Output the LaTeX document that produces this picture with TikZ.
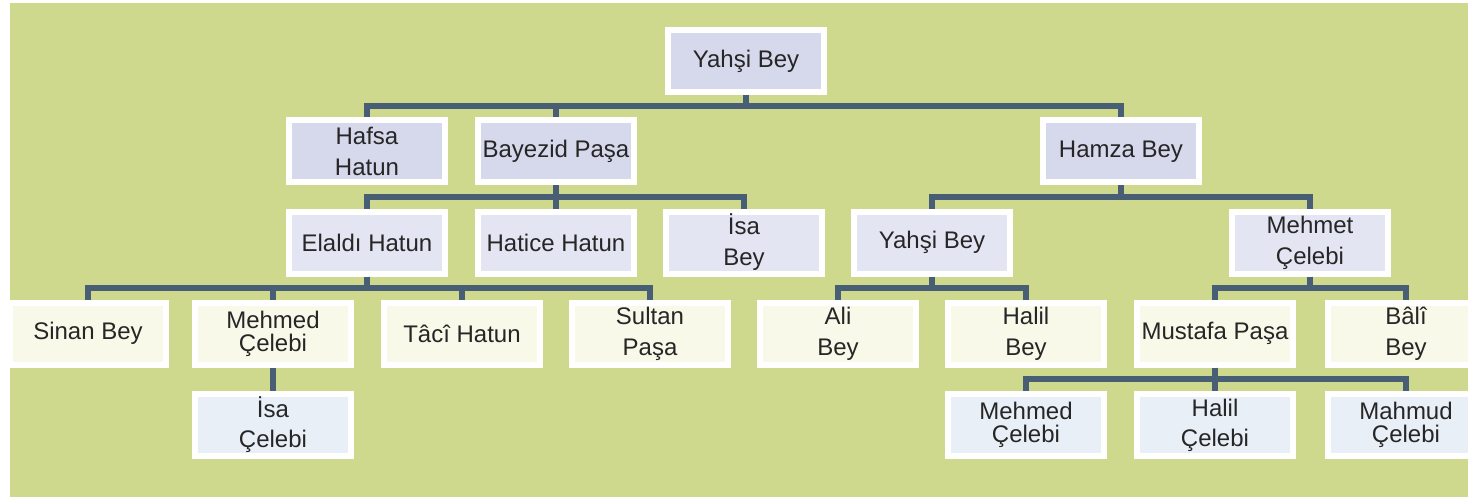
\documentclass[tikz,border=0pt]{standalone}
\usepackage{fontspec}
\setmainfont{Liberation Sans}
\usetikzlibrary{calc}
\definecolor{bgc}{RGB}{206,217,142}
\definecolor{lavA}{RGB}{214,216,236}
\definecolor{lavB}{RGB}{228,229,243}
\definecolor{creamC}{RGB}{249,249,234}
\definecolor{blueD}{RGB}{233,239,247}
\definecolor{connc}{RGB}{72,94,116}
\definecolor{txtc}{RGB}{38,38,38}
\tikzset{
  person/.style={rectangle, draw=white, line width=6pt, minimum width=156pt,
    minimum height=62pt, inner sep=0pt, align=center, text=txtc,
    font=\fontsize{24}{23}\selectfont},
  lvA/.style={person, fill=lavA},
  lvB/.style={person, fill=lavB},
  lvC/.style={person, fill=creamC},
  lvD/.style={person, fill=blueD},
  conn/.style={draw=connc, line width=6pt},
}
\newcommand{\famlink}[2]{\draw[conn] (#1.south) -- ($(#1.south)!.5!(#1.south |- #2.north)$) -| (#2.north);}
\begin{document}
\begin{tikzpicture}[x=1pt,y=-1pt]
\useasboundingbox (0,0) rectangle (1468,500);
\fill[white] (0,0) rectangle (1468,500);
\fill[bgc] (10,3) rectangle (1468,497);
% level 0
\node[lvA] (y0) at (746,61) {Yahşi Bey};
% level 1
\node[lvA] (hafsa) at (367,151.5) {Hafsa\\[8pt]Hatun};
\node[lvA] (bayezid) at (556,151.5) {Bayezid Paşa};
\node[lvA] (hamza) at (1121,151.5) {Hamza Bey};
% level 2
\node[lvB] (elaldi) at (367,242.5) {Elaldı Hatun};
\node[lvB] (hatice) at (556,242.5) {Hatice Hatun};
\node[lvB] (isabey) at (744,242.5) {İsa\\[8pt]Bey};
\node[lvB] (yahsi2) at (932,242.5) {Yahşi Bey};
\node[lvB] (mehmet) at (1310,242.5) {Mehmet\\[8pt]Çelebi};
% level 3
\node[lvC] (sinan) at (88,333.5) {Sinan Bey};
\node[lvC] (mehmed1) at (273,333.5) {Mehmed\\Çelebi};
\node[lvC] (taci) at (462,333.5) {Tâcî Hatun};
\node[lvC] (sultan) at (650,333.5) {Sultan\\[8pt]Paşa};
\node[lvC] (ali) at (838,333.5) {Ali\\[8pt]Bey};
\node[lvC] (halilb) at (1026,333.5) {Halil\\[8pt]Bey};
\node[lvC] (mustafa) at (1215,333.5) {Mustafa Paşa};
\node[lvC] (bali) at (1406,333.5) {Bâlî\\[8pt]Bey};
% level 4
\node[lvD] (isac) at (273,425) {İsa\\[7pt]Çelebi};
\node[lvD] (mehmed2) at (1026,425) {Mehmed\\Çelebi};
\node[lvD] (halilc) at (1215,425) {Halil\\[7pt]Çelebi};
\node[lvD] (mahmud) at (1406,425) {Mahmud\\Çelebi};
% connectors
\famlink{y0}{hafsa}
\famlink{y0}{bayezid}
\famlink{y0}{hamza}
\famlink{bayezid}{elaldi}
\famlink{bayezid}{hatice}
\famlink{bayezid}{isabey}
\famlink{hamza}{yahsi2}
\famlink{hamza}{mehmet}
\famlink{elaldi}{sinan}
\famlink{elaldi}{mehmed1}
\famlink{elaldi}{taci}
\famlink{elaldi}{sultan}
\famlink{yahsi2}{ali}
\famlink{yahsi2}{halilb}
\famlink{mehmet}{mustafa}
\famlink{mehmet}{bali}
\famlink{mehmed1}{isac}
\famlink{mustafa}{mehmed2}
\famlink{mustafa}{halilc}
\famlink{mustafa}{mahmud}
\end{tikzpicture}
\end{document}
